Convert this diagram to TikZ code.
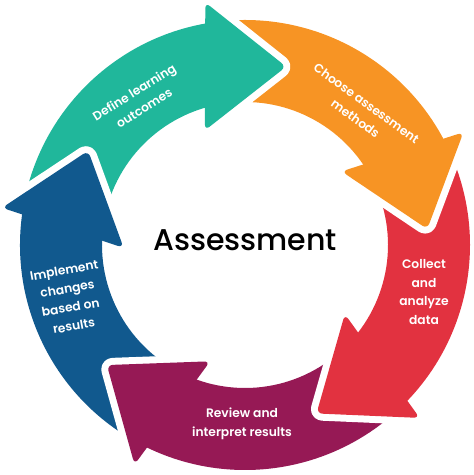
\documentclass[tikz,border=0pt]{standalone}
\usepackage{fontspec}
\setmainfont{Poppins}
\newfontfamily\popsemi{Poppins SemiBold}
\newfontfamily\popmed{Poppins Medium}
\usetikzlibrary{calc}
\definecolor{cteal}{RGB}{32,183,155}
\definecolor{corange}{RGB}{247,148,36}
\definecolor{cred}{RGB}{226,50,64}
\definecolor{cpurple}{RGB}{150,25,85}
\definecolor{cblue}{RGB}{17,89,142}
\begin{document}
\begin{tikzpicture}[x=1pt,y=1pt,
  lbl/.style={text=white, font=\popsemi\fontsize{12.3}{18.8}\selectfont, align=center, inner sep=0pt},
  gapline/.style={white, line width=14pt, rounded corners=6pt, line join=round},
  headfill/.style={rounded corners=6pt}]
\useasboundingbox (0,0) rectangle (474,475);
\begin{scope}[shift={(245,230)}]
% bodies
\foreach \t/\c in {77/cteal, 5/corange, -67/cred, -139/cpurple, -211/cblue} {
  \fill[\c] (\t+92:225) arc[start angle=\t+92, end angle=\t+20, radius=225pt]
    -- (\t+20:143) arc[start angle=\t+20, end angle=\t+92, radius=143pt] -- cycle;
}
% heads
\foreach \t/\c in {77/cteal, 5/corange, -67/cred, -139/cpurple, -211/cblue} {
  \coordinate (M) at (\t+25.6:183);
  \coordinate (T) at (\t:183);
  \coordinate (B1) at ($(M)+(\t+12.8:64)$);
  \coordinate (B2) at ($(M)+(\t+192.8:64)$);
  \draw[gapline] (B1) -- (T) -- (B2);
  \fill[\c, headfill] (B1) -- (T) -- (B2) -- cycle;
}
\node[lbl, rotate=32] (define) at (-106,145) {Define learning\\outcomes};
\node[lbl, rotate=-36] (choose) at (116,134) {Choose assessment\\methods};
\node[lbl] (collect) at (179,-47) {Collect\\and\\analyze\\data};
\node[lbl] (review) at (-3,-179) {Review and\\interpret results};
\node[lbl, rotate=10] (implement) at (-176,-53) {Implement\\changes\\based on\\results};
\node[font=\popmed\fontsize{30}{34}\selectfont, text=black] (center) at (0,5) {Assessment};
\end{scope}
\end{tikzpicture}
\end{document}
